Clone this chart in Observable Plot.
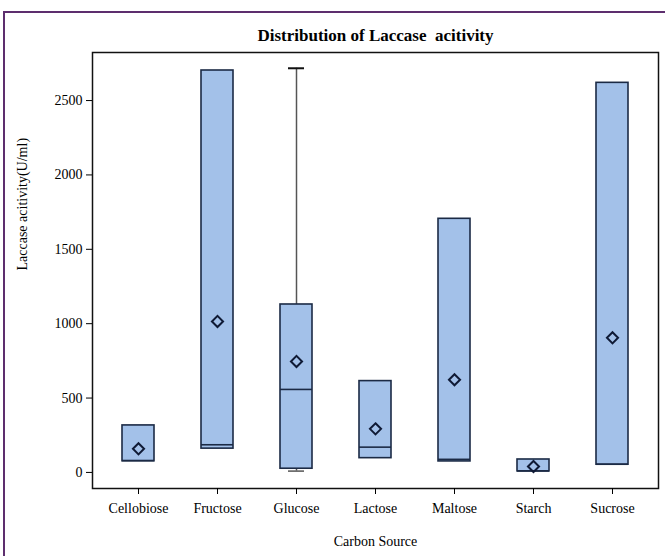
<!DOCTYPE html>
<html>
<head>
<meta charset="utf-8">
<script src="https://cdn.jsdelivr.net/npm/d3@7"></script>
<script src="https://cdn.jsdelivr.net/npm/@observablehq/plot@0.6"></script>
<style>
  html, body { margin: 0; padding: 0; background: #fff; width: 665px; height: 556px; overflow: hidden; }
  #wrap { position: relative; width: 665px; height: 556px; }
  #border { position: absolute; left: 3px; top: 11px; width: 700px; height: 600px; border: 2px solid #5d2e6e; pointer-events: none; }
  #chart { position: absolute; left: 0; top: 0; }
</style>
</head>
<body>
<div id="wrap"><div id="chart"></div><div id="border"></div></div>
<script>
const categories = ["Cellobiose", "Fructose", "Glucose", "Lactose", "Maltose", "Starch", "Sucrose"];
const minValues    = [75, 160, 9, 96, 74, 7, 52];
const q1Values     = [75, 160, 25, 96, 74, 7, 52];
const medianValues = [80, 186, 558, 170, 88, 10, 55];
const q3Values     = [316, 2702, 1129, 614, 1705, 87, 2619];
const maxValues    = [316, 2702, 2717, 614, 1705, 87, 2619];
const meanValues   = [159, 1015, 746, 293, 623, 40, 905];
const yTicks = [0, 500, 1000, 1500, 2000, 2500];

const title = "Distribution of Laccase  acitivity";
const xLabel = "Carbon Source";
const yLabel = "Laccase acitivity(U/ml)";

const rows = categories.map((c, i) => ({
  cat: c, min: minValues[i], q1: q1Values[i], median: medianValues[i],
  q3: q3Values[i], max: maxValues[i], mean: meanValues[i]
}));
const upper = rows.filter(d => d.max > d.q3);
const lower = rows.filter(d => d.min < d.q1);

const boxFill = "#a3c1e9";
const boxStroke = "#1b2a45";

const chart = Plot.plot({
  width: 665,
  height: 556,
  marginLeft: 92,
  marginRight: 7,
  marginTop: 52,
  marginBottom: 68,
  style: { fontFamily: "'Liberation Serif', 'Times New Roman', serif", fontSize: "14px", color: "#000", background: "transparent" },
  x: { domain: categories, paddingInner: 0.6, paddingOuter: 0.36 },
  y: { domain: [-108, 2823] },
  marks: [
    Plot.frame({ stroke: "#111", strokeWidth: 1.5 }),
    Plot.axisY({ ticks: yTicks, tickFormat: d3.format("d"), tickSize: 6, tickPadding: 4, label: null, fontSize: 14, stroke: "#000", fill: "#000" }),
    Plot.axisX({ tickSize: 6, tickPadding: 9, label: null, fontSize: 14, stroke: "#000", fill: "#000" }),
    Plot.ruleX(upper, { x: "cat", y1: "q3", y2: "max", stroke: "#555", strokeWidth: 1.5 }),
    Plot.tickY(upper, { x: "cat", y: "max", stroke: "#111", strokeWidth: 2, insetLeft: 8, insetRight: 8 }),
    Plot.ruleX(lower, { x: "cat", y1: "min", y2: "q1", stroke: "#555", strokeWidth: 1.5 }),
    Plot.tickY(lower, { x: "cat", y: "min", stroke: "#555", strokeWidth: 1.5, insetLeft: 8, insetRight: 8 }),
    Plot.barY(rows, { x: "cat", y1: "q1", y2: "q3", fill: boxFill, stroke: boxStroke, strokeWidth: 1.6 }),
    Plot.tickY(rows, { x: "cat", y: "median", stroke: boxStroke, strokeWidth: 1.6 }),
    Plot.dot(rows, { x: "cat", y: "mean", symbol: "diamond2", r: 5, stroke: "#0f1a35", strokeWidth: 2, fill: "none" }),
    Plot.text([title], { frameAnchor: "top", dy: -24, fontSize: 17, fontWeight: "bold", fill: "#000" }),
    Plot.text([xLabel], { frameAnchor: "bottom", dy: 57, fontSize: 14, fill: "#000" }),
    Plot.text([yLabel], { frameAnchor: "left", dx: -70, rotate: -90, fontSize: 14, fill: "#000" })
  ]
});
document.getElementById("chart").appendChild(chart);
</script>
</body>
</html>
